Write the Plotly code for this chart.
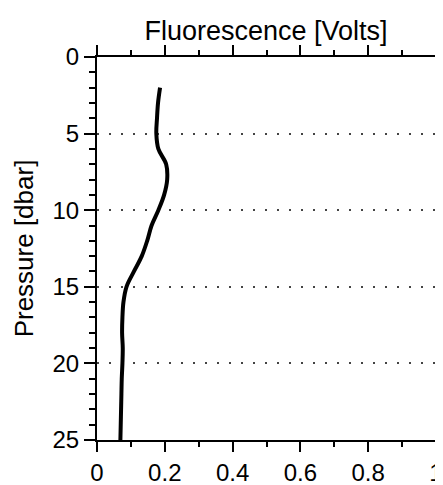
import plotly.graph_objects as go

# Fluorescence profile
pressure = [2, 3, 4, 5, 6, 7, 8, 9, 10, 11, 12, 13, 14, 15, 16, 17, 18, 19, 20, 21, 22, 23, 24, 25]
fluorescence = [0.186, 0.180, 0.177, 0.175, 0.181, 0.204, 0.207, 0.198, 0.181, 0.161, 0.148,
                0.132, 0.109, 0.087, 0.078, 0.075, 0.074, 0.076, 0.075, 0.073, 0.072, 0.071, 0.070, 0.069]

FONT = "Liberation Sans, Arial, sans-serif"

# the page body has an 8px margin, so the figure is a bit smaller than the window
W, H = 435, 477

fig = go.Figure()
fig.add_trace(go.Scatter(
    x=fluorescence,
    y=pressure,
    mode="lines",
    line=dict(color="black", width=4, shape="spline"),
    showlegend=False,
))

fig.update_layout(
    width=W,
    height=H,
    margin=dict(l=89, r=7, t=49, b=45),
    paper_bgcolor="white",
    plot_bgcolor="white",
    font=dict(family=FONT, size=24, color="black"),
    title=dict(
        text="Fluorescence [Volts]",
        x=258 / W,
        xanchor="center",
        y=1 - 23 / H,
        yanchor="middle",
        font=dict(size=27, color="black"),
    ),
)

fig.update_xaxes(
    range=[0, 1],
    dtick=0.2,
    tick0=0,
    automargin=False,
    showgrid=False,
    zeroline=False,
    showline=True,
    linecolor="black",
    linewidth=2,
    mirror="allticks",
    ticks="outside",
    ticklen=10,
    tickwidth=2,
    tickcolor="black",
    minor=dict(dtick=0.1, ticklen=5, tickwidth=1.5, tickcolor="black", ticks="outside", showgrid=False),
    tickfont=dict(size=24),
)

fig.update_yaxes(
    range=[25, 0],
    dtick=5,
    tick0=0,
    automargin=False,
    showgrid=True,
    gridcolor="#444444",
    gridwidth=1.5,
    griddash="1.5px,10.5px",
    zeroline=False,
    showline=True,
    linecolor="black",
    linewidth=2,
    mirror="allticks",
    ticks="outside",
    ticklen=11,
    tickwidth=2,
    tickcolor="black",
    minor=dict(dtick=1, ticklen=6, tickwidth=1.5, tickcolor="black", ticks="outside", showgrid=False),
    tickfont=dict(size=24),
    title=dict(text="Pressure [dbar]", font=dict(size=26), standoff=11),
)

fig.write_html("out.html")
